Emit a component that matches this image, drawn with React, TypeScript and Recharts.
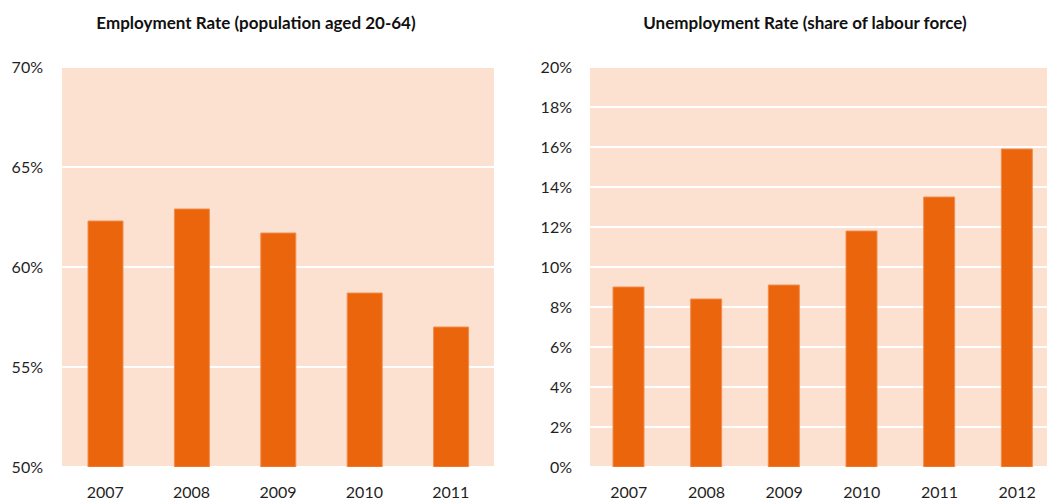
import { Bar, BarChart, CartesianGrid, XAxis, YAxis } from "recharts";

const employmentYears = ["2007", "2008", "2009", "2010", "2011"];
const employmentRate = [62.3, 62.9, 61.7, 58.7, 57.0];
const employmentTicks = [50, 55, 60, 65, 70];

const unemploymentYears = ["2007", "2008", "2009", "2010", "2011", "2012"];
const unemploymentRate = [9.0, 8.4, 9.1, 11.8, 13.5, 15.9];
const unemploymentTicks = [0, 2, 4, 6, 8, 10, 12, 14, 16, 18, 20];

const BAR = "#EA650B";
const BG = "#FCE1D1";
const FONT = "Lato, 'Open Sans', sans-serif";

const tickStyle = { fontSize: 16, fill: "#1f1f1f", fontFamily: FONT };

function toRows(years: string[], values: number[]) {
  return years.map((year, i) => ({ year, value: values[i] }));
}

type PanelProps = {
  data: { year: string; value: number }[];
  ticks: number[];
  width: number;
  yAxisWidth: number;
  yTickMargin: number;
  barSize: number;
};

function Panel({ data, ticks, width, yAxisWidth, yTickMargin, barSize }: PanelProps) {
  return (
    <BarChart
      width={width}
      height={500}
      data={data}
      margin={{ top: 67, right: 0, bottom: 0, left: 0 }}
    >
      <CartesianGrid
        vertical={false}
        stroke="#ffffff"
        strokeWidth={2}
        fill={BG}
        fillOpacity={1}
      />
      <XAxis
        dataKey="year"
        height={33}
        axisLine={false}
        tickLine={false}
        tickSize={0}
        tickMargin={20}
        tick={tickStyle}
        interval={0}
      />
      <YAxis
        width={yAxisWidth}
        domain={[ticks[0], ticks[ticks.length - 1]]}
        ticks={ticks}
        allowDataOverflow
        axisLine={false}
        tickLine={false}
        tickSize={0}
        tickMargin={yTickMargin}
        tick={tickStyle}
        tickFormatter={(v: number) => `${v}%`}
      />
      <Bar
        dataKey="value"
        fill={BAR}
        stroke="#F28C4E"
        strokeWidth={1}
        barSize={barSize}
        isAnimationActive={false}
      />
    </BarChart>
  );
}

const titleStyle = {
  position: "absolute" as const,
  top: 13,
  width: 460,
  textAlign: "center" as const,
  fontFamily: FONT,
  fontWeight: 700,
  fontSize: 17,
  lineHeight: "20px",
  color: "#111",
};

export default function App() {
  return (
    <div
      style={{
        position: "fixed",
        left: 0,
        top: 0,
        width: 1047,
        height: 500,
        overflow: "hidden",
        background: "#fff",
      }}
    >
      <div style={{ ...titleStyle, left: 256 - 230 }}>
        Employment Rate (population aged 20-64)
      </div>
      <div style={{ ...titleStyle, left: 805 - 230 }}>
        Unemployment Rate (share of labour force)
      </div>
      <div style={{ position: "absolute", left: 0, top: 0 }}>
        <Panel
          data={toRows(employmentYears, employmentRate)}
          ticks={employmentTicks}
          width={494}
          yAxisWidth={62}
          yTickMargin={19}
          barSize={35}
        />
      </div>
      <div style={{ position: "absolute", left: 520, top: 0 }}>
        <Panel
          data={toRows(unemploymentYears, unemploymentRate)}
          ticks={unemploymentTicks}
          width={536}
          yAxisWidth={70}
          yTickMargin={18}
          barSize={31}
        />
      </div>
    </div>
  );
}
